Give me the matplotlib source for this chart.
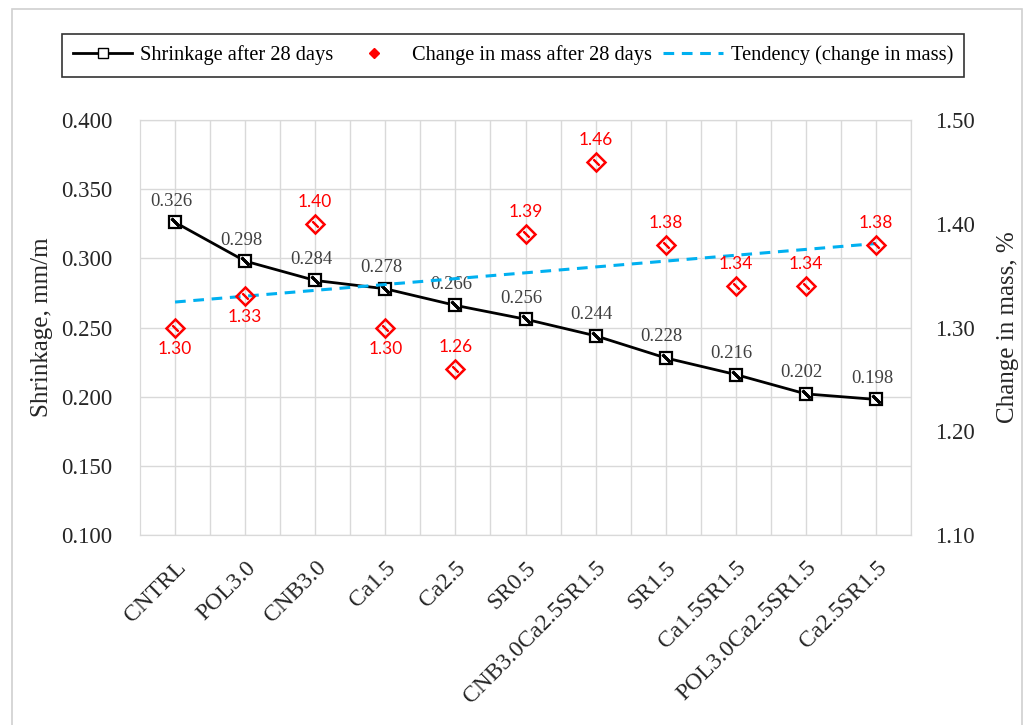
import numpy as np
import matplotlib
matplotlib.use("Agg")
import matplotlib.pyplot as plt
from matplotlib.patches import Rectangle

# data
categories = ["CNTRL", "POL3.0", "CNB3.0", "Ca1.5", "Ca2.5", "SR0.5",
              "CNB3.0Ca2.5SR1.5", "SR1.5", "Ca1.5SR1.5", "POL3.0Ca2.5SR1.5",
              "Ca2.5SR1.5"]
shrinkage = [0.326, 0.298, 0.284, 0.278, 0.266, 0.256, 0.244, 0.228, 0.216, 0.202, 0.198]
mass_change = [1.30, 1.33, 1.40, 1.30, 1.26, 1.39, 1.46, 1.38, 1.34, 1.34, 1.38]
mass_label_side = ["below", "below", "above", "below", "above", "above",
                   "above", "above", "above", "above", "above"]

serif = "Liberation Serif"
grid_c = "#d9d9d9"
txt_c = "#262626"

fig = plt.figure(figsize=(10.27, 7.25), dpi=100)
fig.patches.append(Rectangle((12 / 1027, -0.1), 1010 / 1027, 1.1 - 9 / 725,
                             transform=fig.transFigure, fill=False,
                             edgecolor="#d0d0d0", lw=1.2))

ax = fig.add_axes([140 / 1027, 1 - 535 / 725, 771 / 1027, 415 / 725])
ax2 = ax.twinx()

x = np.arange(len(categories))

# grid: lines on the categories and between them
ax.set_xlim(-0.5, len(categories) - 0.5)
ax.set_xticks(x)
ax.set_xticks(x + 0.5, minor=True)
ax.set_ylim(0.1, 0.4)
ax.set_yticks(np.arange(0.1, 0.401, 0.05))
ax.grid(True, which="both", color=grid_c, lw=1)
ax.set_axisbelow(True)
for a in (ax, ax2):
    for s in a.spines.values():
        s.set_color(grid_c)
ax.tick_params(which="both", length=0)
ax2.tick_params(length=0)

# shrinkage line
ax.plot(x, shrinkage, color="black", lw=2, marker="s", ms=9,
        mfc="white", mec="black", mew=1.6, zorder=4)
ax.plot(x, shrinkage, ls="none", marker=(2, 2, 45), ms=8, mec="black",
        mew=2, zorder=5)
for xi, v in zip(x, shrinkage):
    ax.annotate(f"{v:.3f}", (xi, v), xytext=(-4, 21), textcoords="offset pixels",
                ha="center", va="center", fontsize=13.5, family=serif,
                color="#404040", zorder=6)

# change in mass + linear tendency
ax2.set_ylim(1.1, 1.5)
ax2.set_yticks(np.arange(1.1, 1.501, 0.1))
slope, icpt = np.polyfit(x, mass_change, 1)
ax2.plot(x, slope * x + icpt, color="#00b0f0", lw=2.2, ls=(0, (3.5, 2.5)),
         zorder=3)
ax2.plot(x, mass_change, ls="none", marker="D", ms=9.5, mfc="none",
         mec="red", mew=1.8, zorder=4)
ax2.plot(x, mass_change, ls="none", marker=(2, 2, 45), ms=6, mec="red",
         mew=1.5, zorder=4)
for xi, v, side in zip(x, mass_change, mass_label_side):
    dy = 22 if side == "above" else -21
    ax2.annotate(f"{v:.2f}", (xi, v), xytext=(0, dy), textcoords="offset pixels",
                 ha="center", va="center", fontsize=12.5, family="Lato",
                 color="red", zorder=6)

# tick labels
ax.set_xticklabels(categories, rotation=45, ha="right", rotation_mode="anchor",
                   family=serif, fontsize=17, color=txt_c)
ax.tick_params(axis="x", pad=16)
ax.set_yticklabels([f"{v:.3f}" for v in ax.get_yticks()], family=serif,
                   fontsize=16.5, color=txt_c)
ax.tick_params(axis="y", pad=20)
ax2.set_yticklabels([f"{v:.2f}" for v in ax2.get_yticks()], family=serif,
                    fontsize=16.5, color=txt_c)
ax2.tick_params(axis="y", pad=17)
ax.set_ylabel("Shrinkage, mm/m", family=serif, fontsize=18, color=txt_c,
              labelpad=6)
ax2.set_ylabel("Change in mass, %", family=serif, fontsize=18, color=txt_c,
               labelpad=16)

# legend
h_shr = plt.Line2D([], [], color="black", lw=2, marker="s", ms=7,
                   mfc="white", mec="black")
h_mass = plt.Line2D([], [], ls="none", marker="D", ms=5, color="red")
h_tr = plt.Line2D([], [], color="#00b0f0", lw=2.2, ls=(0, (3.5, 2.5)))
leg = fig.legend([h_shr, h_mass, h_tr],
                 ["Shrinkage after 28 days", "Change in mass after 28 days",
                  "Tendency (change in mass)"],
                 loc="center", bbox_to_anchor=(513 / 1027, 1 - 55.5 / 725),
                 ncol=3, frameon=True, fancybox=False, edgecolor="black",
                 prop={"family": serif, "size": 14.7}, handlelength=2.9,
                 columnspacing=0.55, handletextpad=0.4, borderpad=0.55,
                 borderaxespad=0)
leg.get_frame().set_linewidth(1.2)

fig.savefig("out.png", dpi=100)
